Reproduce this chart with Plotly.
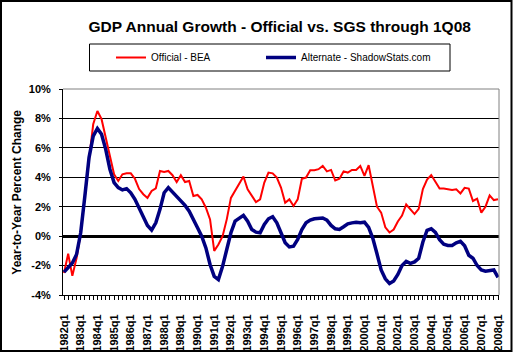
import plotly.graph_objects as go

# ---------------- data ----------------
years = list(range(1982, 2009))
quarters = [f"{y}q{q}" for y in years for q in range(1, 5)][:105]  # 1982q1 .. 2008q1

official = [
    -2.5, -1.2, -2.7, -1.5, 0.2, 2.5, 5.2, 7.6, 8.5, 7.95,
    6.8, 5.45, 4.2, 3.75, 4.2, 4.27, 4.27, 3.9, 3.2, 2.85,
    2.6, 3.07, 3.25, 4.43, 4.36, 4.43, 4.14, 3.68, 4.14, 3.68,
    3.75, 2.73, 2.8, 2.5, 1.93, 1.14, -1.0, -0.57, 0.0, 1.14,
    2.6, 3.07, 3.5, 4.05, 3.18, 2.77, 2.32, 2.5, 3.64, 4.32,
    4.27, 3.98, 3.3, 2.27, 2.5, 2.05, 2.5, 3.9, 3.98, 4.48,
    4.48, 4.55, 4.77, 4.4, 4.5, 3.78, 3.9, 4.4, 4.32, 4.5,
    4.5, 4.77, 4.1, 4.82, 3.45, 2.0, 1.6, 0.6, 0.25, 0.45,
    1.0, 1.4, 2.15, 1.8, 1.5, 1.85, 3.2, 3.85, 4.15, 3.7,
    3.23, 3.23, 3.18, 3.14, 3.18, 2.9, 3.28, 3.23, 2.39, 2.55,
    1.6, 2.0, 2.77, 2.45, 2.5,
]

alternate = [
    -2.45, -2.16, -1.82, -1.25, 0.23, 2.73, 5.34, 6.8, 7.32, 6.93,
    5.9, 4.55, 3.64, 3.3, 3.14, 3.23, 2.95, 2.5, 1.93, 1.25,
    0.73, 0.41, 0.91, 1.82, 2.95, 3.3, 3.0, 2.68, 2.39, 2.09,
    1.7, 1.18, 0.57, 0.0, -0.8, -1.93, -2.73, -2.95, -2.05, -0.91,
    0.23, 1.02, 1.25, 1.41, 1.02, 0.45, 0.27, 0.23, 0.8, 1.18,
    1.32, 0.91, 0.23, -0.45, -0.73, -0.68, -0.23, 0.45, 0.91, 1.09,
    1.18, 1.23, 1.23, 1.09, 0.73, 0.5, 0.45, 0.64, 0.84, 0.9,
    0.95, 0.91, 0.95, 0.6, -0.15, -1.2, -2.3, -2.9, -3.22, -3.05,
    -2.6, -2.0, -1.72, -1.85, -1.75, -1.5, -0.4, 0.4, 0.5, 0.25,
    -0.25, -0.55, -0.63, -0.63, -0.45, -0.35, -0.65, -1.3, -1.5, -2.0,
    -2.3, -2.38, -2.35, -2.3, -2.8,
]

y_ticks = [-4, -2, 0, 2, 4, 6, 8, 10]
y_labels = ["-4%", "-2%", "0%", "2%", "4%", "6%", "8%", "10%"]

title_text = "GDP Annual Growth - Official vs. SGS through 1Q08"
y_title = "Year-to-Year Percent Change"
series_names = ["Official - BEA", "Alternate - ShadowStats.com"]

# ---------------- layout helpers ----------------
W, H = 513, 353
L, R, T, B = 63, 14, 89, 58
PW, PH = W - L - R, H - T - B


def px_x(p):
    return (p - L) / PW


def px_y(p):
    return (H - B - p) / PH


FONT = "Liberation Sans, Arial, sans-serif"
xi = list(range(len(quarters)))
x_ticktext = [q if q.endswith("q1") else "" for q in quarters]

fig = go.Figure()
fig.add_trace(go.Scatter(x=xi, y=official, mode="lines", name=series_names[0],
                         line=dict(color="#FF0000", width=2), legend="legend"))
fig.add_trace(go.Scatter(x=xi, y=alternate, mode="lines", name=series_names[1],
                         line=dict(color="#000080", width=3.5), legend="legend2"))

shapes = [
    # outer chart border
    dict(type="rect", xref="paper", yref="paper", x0=px_x(1), x1=px_x(511.5),
         y0=px_y(351), y1=px_y(1), line=dict(color="black", width=2), layer="above"),
    # legend box
    dict(type="rect", xref="paper", yref="paper", x0=px_x(89.5), x1=px_x(450),
         y0=px_y(71), y1=px_y(44), line=dict(color="black", width=1), layer="above"),
    # plot area top / right grey border
    dict(type="line", xref="paper", yref="paper", x0=0, x1=1, y0=1, y1=1,
         line=dict(color="#808080", width=1), layer="above"),
    dict(type="line", xref="paper", yref="paper", x0=1, x1=1, y0=0, y1=1,
         line=dict(color="#808080", width=1), layer="above"),
]

legend_common = dict(orientation="h", xanchor="left", yanchor="middle", y=px_y(57.5),
                     bgcolor="rgba(0,0,0,0)", borderwidth=0, itemclick=False,
                     font=dict(family=FONT, size=10, color="black"))

fig.update_layout(
    width=W, height=H,
    margin=dict(l=L, r=R, t=T, b=B, pad=0, autoexpand=False),
    paper_bgcolor="white", plot_bgcolor="white",
    font=dict(family=FONT, color="black"),
    title=dict(text=title_text, x=279.7 / W, xanchor="center", xref="container",
               y=1 - 26.2 / H, yanchor="middle", yref="container",
               font=dict(family=FONT, size=15.5, weight="bold", color="black")),
    showlegend=True,
    legend=dict(x=px_x(111), **legend_common),
    legend2=dict(x=px_x(261), **legend_common),
    shapes=shapes,
    annotations=[dict(text=y_title, xref="paper", yref="paper", x=px_x(16.7), y=px_y(192),
                      xanchor="center", yanchor="middle", textangle=-90, showarrow=False,
                      font=dict(family=FONT, size=12, weight="bold", color="black"))],
)

fig.update_xaxes(range=[-0.24, 104.24], tickmode="array", tickvals=xi, ticktext=x_ticktext,
                 tickangle=-90, ticks="outside", ticklen=4, tickcolor="black", tickwidth=1,
                 showline=True, linecolor="black", linewidth=1, showgrid=False,
                 zeroline=False, ticklabelstandoff=10, automargin=False,
                 tickfont=dict(family=FONT, size=11, weight="bold", color="black"))
fig.update_yaxes(range=[-4, 10], tickmode="array", tickvals=y_ticks, ticktext=y_labels,
                 ticks="outside", ticklen=3, tickcolor="black", tickwidth=1,
                 showline=True, linecolor="black", linewidth=1,
                 showgrid=True, gridcolor="black", gridwidth=1,
                 zeroline=True, zerolinecolor="black", zerolinewidth=3,
                 ticklabelstandoff=6, automargin=False,
                 tickfont=dict(family=FONT, size=11, weight="bold", color="black"))

fig.write_html("out.html")
